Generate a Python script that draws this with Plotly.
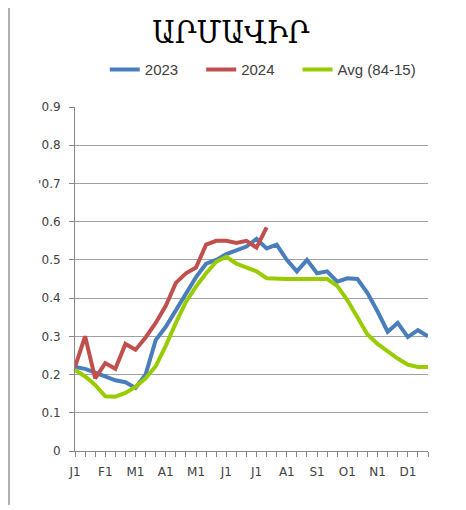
import plotly.graph_objects as go

# Dekad index (36 dekads per year)
dekads = list(range(36))
month_labels = ["J1", "F1", "M1", "A1", "M1", "J1", "J1", "A1", "S1", "O1", "N1", "D1"]
label_positions = [0, 3, 6, 9, 12, 15, 18, 21, 24, 27, 30, 33]
series_names = ["2023", "2024", "Avg (84-15)"]

y2023 = [0.22, 0.215, 0.205, 0.195, 0.185, 0.18, 0.165, 0.20, 0.29, 0.325, 0.37, 0.41,
         0.455, 0.49, 0.50, 0.515, 0.525, 0.535, 0.555, 0.53, 0.54, 0.50, 0.47, 0.50,
         0.465, 0.47, 0.443, 0.452, 0.45, 0.413, 0.365, 0.312, 0.335, 0.298, 0.316, 0.30]
y2024 = [0.22, 0.30, 0.19, 0.23, 0.215, 0.28, 0.265, 0.297, 0.335, 0.38, 0.44, 0.465,
         0.48, 0.54, 0.55, 0.55, 0.544, 0.55, 0.532, 0.585]
yavg = [0.212, 0.195, 0.173, 0.143, 0.142, 0.152, 0.168, 0.19, 0.222, 0.275, 0.335, 0.39,
        0.43, 0.465, 0.495, 0.508, 0.49, 0.481, 0.47, 0.452, 0.45, 0.45, 0.45, 0.45,
        0.45, 0.45, 0.432, 0.395, 0.35, 0.305, 0.28, 0.26, 0.242, 0.226, 0.22, 0.22]

ticktext = []
for i in dekads:
    ticktext.append(month_labels[label_positions.index(i)] if i in label_positions else "")

PAD = "\u2003\u2009"  # extra spacing between legend entries

fig = go.Figure()
fig.add_trace(go.Scatter(x=dekads[:len(y2023)], y=y2023, mode="lines", name=series_names[0] + PAD,
                         line=dict(color="#4A7EBB", width=4)))
fig.add_trace(go.Scatter(x=dekads[:len(y2024)], y=y2024, mode="lines", name=series_names[1] + PAD,
                         line=dict(color="#C0504D", width=4)))
fig.add_trace(go.Scatter(x=dekads[:len(yavg)], y=yavg, mode="lines", name=series_names[2],
                         line=dict(color="#99CC00", width=4)))

fig.update_layout(
    width=458, height=502,
    margin=dict(l=67, r=38, t=99, b=59),
    paper_bgcolor="white", plot_bgcolor="white",
    font=dict(family="DejaVu Sans, sans-serif", size=12, color="#404040"),
    title=dict(text="ԱՐՄԱՎԻՐ", x=0.487, xref="container", xanchor="center",
               y=0.952, yref="container", yanchor="middle",
               font=dict(family="DejaVu Serif Condensed, DejaVu Serif, serif", size=31,
                         color="#000000")),
    legend=dict(orientation="h", x=0.532, xanchor="center", y=1.108, yanchor="middle",
                font=dict(family="Liberation Sans, Arial, sans-serif", size=15,
                          color="#404040"),
                tracegroupgap=0),
    showlegend=True,
)
fig.update_xaxes(
    range=[0, 35], tickmode="array", tickvals=dekads, ticktext=ticktext,
    ticks="outside", ticklen=5, tickcolor="#888888", showline=True, linecolor="#888888",
    linewidth=1, showgrid=False, zeroline=False, tickangle=0, ticklabelstandoff=5,
)
fig.update_yaxes(
    range=[0, 0.9], dtick=0.1, tick0=0, ticks="outside", ticklen=5, tickcolor="#888888",
    showline=True, linecolor="#888888", linewidth=1, showgrid=True, gridcolor="#A0A0A0",
    gridwidth=1.2, zeroline=False, tickformat="~g", ticklabelstandoff=6,
)
fig.add_shape(type="line", xref="paper", yref="paper", x0=-0.187, x1=-0.187, y0=-0.157, y1=1.288,
              line=dict(color="#B0B0B0", width=2))
fig.add_annotation(text="'", xref="paper", yref="paper", x=-0.11, y=0.80, showarrow=False,
                   font=dict(size=12, color="#404040"))

fig.write_html("out.html")
